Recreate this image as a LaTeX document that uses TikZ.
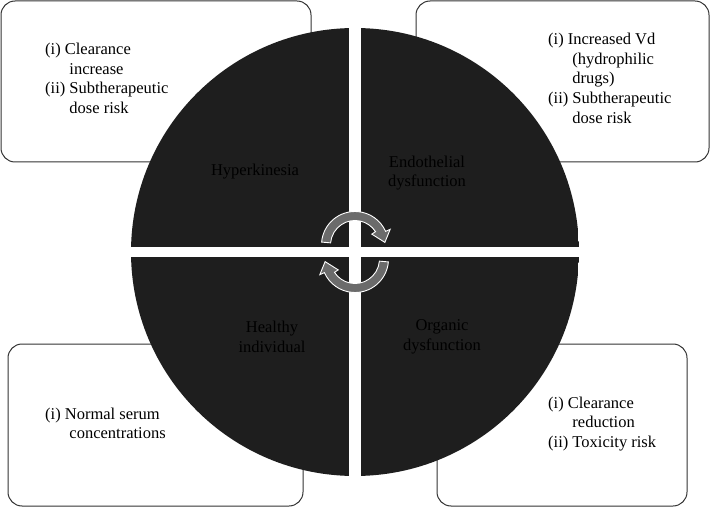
\documentclass[tikz,border=0pt]{standalone}
\usepackage{fontspec}
\setmainfont{Liberation Serif}
\usepackage{tikz}
\newcommand{\notesize}{\fontsize{16.5}{19.8}\selectfont}
\newcommand{\hang}{\phantom{(ii)\ }}
\definecolor{quadfill}{RGB}{30,30,30}

\begin{document}
\begin{tikzpicture}[x=1pt,y=1pt,font=\notesize,
  box/.style={draw=black!80,line width=1pt,rounded corners=14pt},
  note/.style={anchor=west,inner sep=0pt,align=left},
  quadlabel/.style={align=center,text=black,inner sep=0pt},
  turn/.style={fill=black!58,draw=white,line width=0.9pt}]
  \useasboundingbox (0,0) rectangle (710,507);
  % boxes behind the disc
  \draw[box] (1,345) rectangle (311,506);
  \draw[box] (416,345) rectangle (709,506);
  \draw[box] (8,1) rectangle (303,163);
  \draw[box] (437,1) rectangle (687,163);
  % the disc, cut in four
  \begin{scope}
    \clip (355,255) circle (224);
    \fill[quadfill] (131,260) rectangle (349,479);
    \fill[quadfill] (361,260) rectangle (579,479);
    \fill[quadfill] (131,31) rectangle (349,250);
    \fill[quadfill] (361,31) rectangle (579,250);
  \end{scope}
  \node[quadlabel] (hyper) at (255,335) {Hyperkinesia};
  \node[quadlabel] (endo) at (427,334) {Endothelial\\dysfunction};
  \node[quadlabel] (healthy) at (272,170) {Healthy\\individual};
  \node[quadlabel] (organ) at (442,170) {Organic\\dysfunction};
  % turning arrows
  \foreach \yc/\rot in {262/0,248/180}
    \filldraw[turn,shift={(355,\yc)},rotate=\rot]
      (175:33.5) arc[start angle=175,end angle=24,radius=33.5]
      -- (24:38.5) -- (5:30) -- (33:20) -- (33:24.5)
      arc[start angle=33,end angle=175,radius=24.5] -- cycle;
  % notes
  \node[note] (hypernote) at (45,427)
    {(i) Clearance\\\hang increase\\(ii) Subtherapeutic\\\hang dose risk};
  \node[note] (endonote) at (548,427)
    {(i) Increased Vd\\\hang(hydrophilic\\\hang drugs)\\(ii) Subtherapeutic\\\hang dose risk};
  \node[note] (healthynote) at (45,82)
    {(i) Normal serum\\\hang concentrations};
  \node[note] (organnote) at (548,83)
    {(i) Clearance\\\hang reduction\\(ii) Toxicity risk};
\end{tikzpicture}
\end{document}
